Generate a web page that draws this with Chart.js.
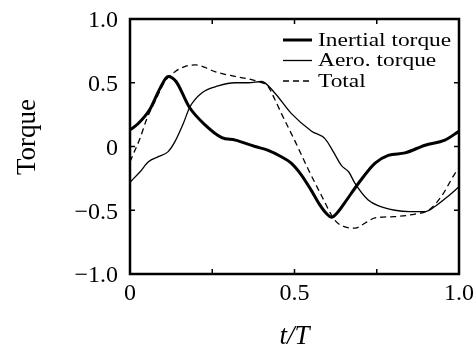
<!DOCTYPE html>
<html>
<head>
<meta charset="utf-8">
<script src="https://cdn.jsdelivr.net/npm/chart.js@4/dist/chart.umd.min.js"></script>
<style>
  html, body { margin: 0; padding: 0; background: #fff; }
  #c { display: block; }
</style>
</head>
<body>
<canvas id="c" width="476" height="352"></canvas>
<script>
// ---- data ----
const seriesLabels = ['Inertial torque', 'Aero. torque', 'Total'];

const inertialT = [0, 0.025, 0.06, 0.09, 0.116, 0.14, 0.18, 0.228, 0.279, 0.32, 0.38, 0.42, 0.46, 0.49, 0.52, 0.55, 0.575, 0.595, 0.613, 0.63, 0.653, 0.694, 0.745, 0.785, 0.836, 0.897, 0.957, 1.0];
const inertialV = [0.13, 0.18, 0.29, 0.45, 0.55, 0.51, 0.31, 0.17, 0.07, 0.05, 0.0, -0.03, -0.08, -0.13, -0.22, -0.34, -0.45, -0.52, -0.555, -0.52, -0.44, -0.29, -0.13, -0.07, -0.05, 0.01, 0.05, 0.12];

const aeroT = [0, 0.03, 0.056, 0.086, 0.116, 0.137, 0.162, 0.182, 0.218, 0.268, 0.319, 0.36, 0.40, 0.44, 0.49, 0.552, 0.593, 0.62, 0.643, 0.665, 0.684, 0.724, 0.76, 0.805, 0.85, 0.897, 0.927, 0.967, 1.0];
const aeroV = [-0.28, -0.2, -0.12, -0.08, -0.04, 0.04, 0.18, 0.31, 0.42, 0.475, 0.50, 0.50, 0.51, 0.42, 0.26, 0.12, 0.06, -0.05, -0.15, -0.2, -0.29, -0.42, -0.47, -0.50, -0.51, -0.51, -0.47, -0.39, -0.315];

const totalT = [0, 0.015, 0.03, 0.05, 0.081, 0.106, 0.137, 0.17, 0.198, 0.228, 0.258, 0.319, 0.36, 0.39, 0.42, 0.44, 0.46, 0.50, 0.542, 0.583, 0.623, 0.653, 0.684, 0.715, 0.745, 0.805, 0.866, 0.907, 0.947, 0.988, 1.0];
const totalV = [-0.12, -0.03, 0.06, 0.21, 0.38, 0.51, 0.587, 0.63, 0.64, 0.62, 0.587, 0.55, 0.53, 0.51, 0.47, 0.37, 0.26, 0.05, -0.18, -0.39, -0.58, -0.63, -0.64, -0.60, -0.56, -0.55, -0.53, -0.50, -0.39, -0.21, -0.17];

const xTickLabels = {0: '0', 0.5: '0.5', 1: '1.0'};
const yTickLabels = {'-1': '\u22121.0', '-0.5': '\u22120.5', '0': '0', '0.5': '0.5', '1': '1.0'};

const xTitle = 't/T';
const yTitle = '\u2002\u2009Torque';

// ---- build ----
const zip = (t, v) => t.map((x, i) => ({x: x, y: v[i]}));
const FAMILY = '"Liberation Serif", "Times New Roman", serif';

const framePlugin = {
  id: 'frame',
  afterDraw(chart) {
    const {ctx, chartArea: {left, right, top, bottom}, scales: {x, y}} = chart;
    ctx.save();
    ctx.strokeStyle = '#000';
    ctx.lineWidth = 1.5;
    ctx.beginPath();
    x.ticks.forEach(t => {
      const px = x.getPixelForValue(t.value);
      ctx.moveTo(px, bottom); ctx.lineTo(px, bottom - 5);
      ctx.moveTo(px, top); ctx.lineTo(px, top + 5);
    });
    y.ticks.forEach(t => {
      const py = y.getPixelForValue(t.value);
      ctx.moveTo(left, py); ctx.lineTo(left + 5, py);
      ctx.moveTo(right, py); ctx.lineTo(right - 5, py);
    });
    ctx.stroke();
    ctx.lineWidth = 2.5;
    ctx.strokeRect(left, top, right - left, bottom - top);
    ctx.restore();
  }
};

const legendPlugin = {
  id: 'insideLegend',
  afterDraw(chart) {
    const {ctx, chartArea: {right, top}} = chart;
    ctx.save();
    chart.data.datasets.forEach((ds, i) => {
      const yy = top + 21 + i * 20.5;
      ctx.beginPath();
      ctx.strokeStyle = '#000';
      ctx.lineWidth = ds.borderWidth;
      ctx.setLineDash(ds.borderDash || []);
      ctx.moveTo(right - 176, yy);
      ctx.lineTo(right - 147, yy);
      ctx.stroke();
      ctx.setLineDash([]);
      ctx.save();
      ctx.translate(right - 141, yy + 1);
      ctx.scale(1.3, 1);
      ctx.font = '18px ' + FAMILY;
      ctx.fillStyle = '#000';
      ctx.textBaseline = 'middle';
      ctx.textAlign = 'left';
      ctx.fillText(ds.label, 0, 0);
      ctx.restore();
    });
    ctx.restore();
  }
};

Chart.defaults.color = '#000';

new Chart(document.getElementById('c'), {
  type: 'line',
  data: {
    datasets: [
      {label: seriesLabels[0], data: zip(inertialT, inertialV), borderColor: '#000', borderWidth: 3, pointRadius: 0, fill: false, cubicInterpolationMode: 'monotone'},
      {label: seriesLabels[1], data: zip(aeroT, aeroV), borderColor: '#000', borderWidth: 1.3, pointRadius: 0, fill: false, cubicInterpolationMode: 'monotone'},
      {label: seriesLabels[2], data: zip(totalT, totalV), borderColor: '#000', borderWidth: 1.3, borderDash: [6, 4], pointRadius: 0, fill: false, cubicInterpolationMode: 'monotone'}
    ]
  },
  options: {
    responsive: false,
    devicePixelRatio: 1,
    animation: false,
    layout: {padding: {top: 19, right: 17, left: 0, bottom: 0}},
    plugins: {legend: {display: false}, tooltip: {enabled: false}},
    scales: {
      x: {
        type: 'linear', min: 0, max: 1,
        afterFit: s => { s.height = 78; s.paddingLeft = 0; s.paddingRight = 0; },
        grid: {display: false, drawTicks: false},
        border: {display: false},
        ticks: {
          stepSize: 0.25, autoSkip: false, maxRotation: 0, padding: 5,
          font: {family: FAMILY, size: 24},
          callback: v => (xTickLabels[v] !== undefined ? xTickLabels[v] : '')
        },
        title: {display: true, text: xTitle, font: {family: FAMILY, size: 27, style: 'italic'}, padding: {top: 0, bottom: -1}}
      },
      y: {
        type: 'linear', min: -1, max: 1,
        afterFit: s => { s.width = 130; s.paddingTop = 0; s.paddingBottom = 0; },
        grid: {display: false, drawTicks: false},
        border: {display: false},
        ticks: {
          stepSize: 0.5, autoSkip: false, padding: 12, labelOffset: 2,
          font: {family: FAMILY, size: 24},
          callback: v => (yTickLabels[String(v)] !== undefined ? yTickLabels[String(v)] : '')
        },
        title: {display: true, text: yTitle, font: {family: FAMILY, size: 27}, padding: {top: 12, bottom: 0}}
      }
    }
  },
  plugins: [framePlugin, legendPlugin]
});
</script>
</body>
</html>
